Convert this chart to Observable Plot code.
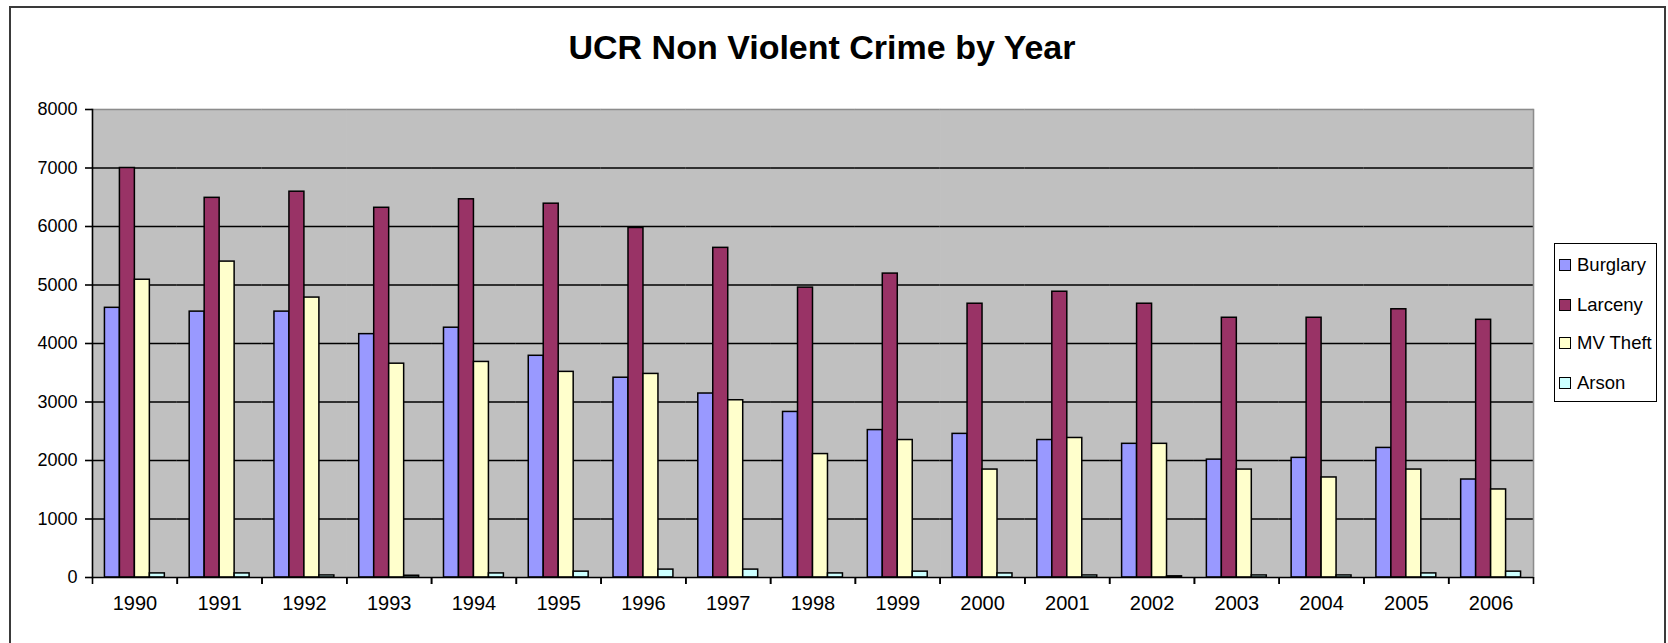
<!DOCTYPE html>
<html><head><meta charset="utf-8">
<script src="https://cdn.jsdelivr.net/npm/d3@7"></script>
<script src="https://cdn.jsdelivr.net/npm/@observablehq/plot@0.6"></script>
<style>
html,body{margin:0;padding:0;background:#fff;overflow:hidden;width:1668px;height:643px}
#wrap{position:relative;width:1668px;height:643px;font-family:"Liberation Sans",Arial,sans-serif;color:#000}
#chart{position:absolute;left:0;top:0}
#border{position:absolute;left:9px;top:6px;width:1653px;height:700px;border:2px solid #3a3a3a;pointer-events:none}
#title{position:absolute;left:0;width:1644px;top:27px;text-align:center;font-weight:bold;font-size:34px;line-height:40px}
#legend{position:absolute;left:1554px;top:243px;width:101px;height:157px;border:1.5px solid #000;background:#fff}
.item{position:absolute;left:4px;height:22px;display:flex;align-items:center;font-size:18.5px;white-space:nowrap}
.sw{width:10px;height:10px;border:1.5px solid #000;margin-right:6px}
</style></head>
<body>
<div id="wrap">
  <div id="chart"></div>
  <div id="title">UCR Non Violent Crime by Year</div>
  <div id="legend"></div>
  <div id="border"></div>
</div>
<script>
const years = ["1990","1991","1992","1993","1994","1995","1996","1997","1998","1999","2000","2001","2002","2003","2004","2005","2006"];
const series = ["Burglary","Larceny","MV Theft","Arson"];
const colors = ["#9999ff","#993366","#ffffcc","#ccffff"];
const burglary = [4610,4545,4545,4160,4270,3790,3415,3145,2830,2520,2455,2350,2285,2015,2045,2215,1675];
const larceny  = [7000,6490,6595,6320,6465,6390,5975,5635,4955,5195,4680,4885,4680,4440,4440,4585,4405];
const mvTheft  = [5090,5400,4785,3655,3685,3515,3480,3030,2110,2350,1845,2385,2285,1845,1710,1845,1505];
const arson    = [70,70,35,30,70,100,135,135,70,100,70,35,20,35,35,70,100];
const yTicks = [0,1000,2000,3000,4000,5000,6000,7000,8000];
const gridValues = [1000,2000,3000,4000,5000,6000,7000];

const values = [burglary, larceny, mvTheft, arson];
const table = years.flatMap((yr, i) => series.map((s, j) => ({year: yr, series: s, value: values[j][i]})));

const W = 1668, H = 643, mL = 92, mR = 135, mT = 109, mB = 66;
const step = (W - mL - mR) / years.length;

const chart = Plot.plot({
  width: W, height: H, marginTop: mT, marginBottom: mB, marginLeft: mL, marginRight: mR,
  style: {fontFamily: "'Liberation Sans', Arial, sans-serif", fontSize: "18px", color: "#000", background: "transparent"},
  fx: {domain: years, padding: 0, round: false, label: null},
  x: {domain: series, paddingInner: 0, paddingOuter: 0.83, round: false, axis: null},
  y: {domain: [0, 8000], label: null},
  color: {domain: series, range: colors},
  marks: [
    Plot.frame({fill: "#c0c0c0", stroke: "#c0c0c0", strokeWidth: 1.2}),
    Plot.ruleY(gridValues, {stroke: "#000", strokeWidth: 1.6}),
    Plot.ruleY([8000], {stroke: "#8c8c8c", strokeWidth: 1.5}),
    Plot.frame({anchor: "right", stroke: "#8c8c8c", strokeWidth: 1.5, fx: "2006"}),
    Plot.barY(table, {fx: "year", x: "series", y: "value", fill: "series", stroke: "#000", strokeWidth: 1.5}),
    Plot.ruleY([0], {stroke: "#000", strokeWidth: 1.6}),
    Plot.frame({anchor: "left", stroke: "#000", strokeWidth: 1.6, fx: "1990"}),
    Plot.axisY(yTicks, {tickSize: 7, tickPadding: 8, tickFormat: d => String(d), fontSize: 18, label: null, strokeWidth: 1.6}),
    Plot.axisFx({anchor: "bottom", tickSize: 0, tickPadding: 18, fontSize: 20, label: null}),
    Plot.axisFx({anchor: "bottom", fill: "none", tickSize: 7, dx: -step / 2, label: null, strokeWidth: 1.6}),
    Plot.axisFx(["2006"], {anchor: "bottom", fill: "none", tickSize: 7, dx: step / 2, label: null, strokeWidth: 1.6})
  ]
});
document.getElementById("chart").appendChild(chart);

const legend = document.getElementById("legend");
const centers = [21, 61, 99, 139];
series.forEach((s, i) => {
  const it = document.createElement("div");
  it.className = "item";
  it.style.top = (centers[i] - 11) + "px";
  const sw = document.createElement("div");
  sw.className = "sw";
  sw.style.background = colors[i];
  const tx = document.createElement("span");
  tx.textContent = s;
  it.appendChild(sw); it.appendChild(tx);
  legend.appendChild(it);
});
</script>
</body></html>
